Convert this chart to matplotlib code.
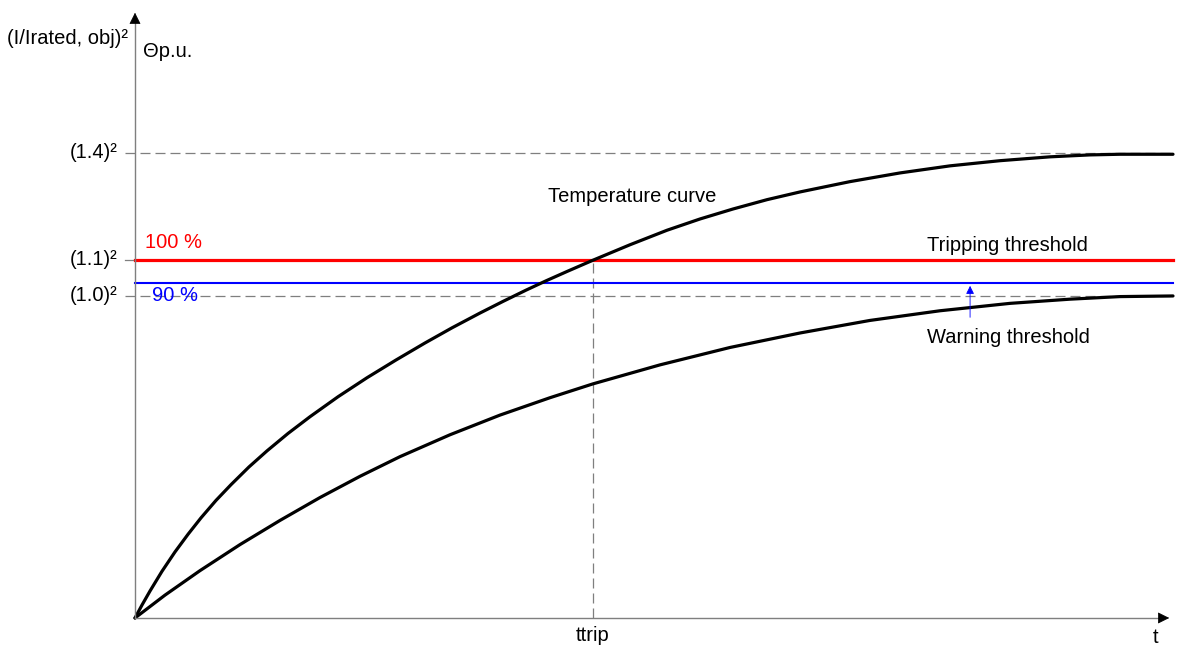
import numpy as np
import matplotlib.pyplot as plt

plt.rcParams['font.family'] = ['Liberation Sans', 'DejaVu Sans']

# Часова вісь (умовні одиниці, 10 = правий край кривих)
t_high = [0, 0.067, 0.145, 0.260, 0.385, 0.511, 0.636, 0.780, 0.925, 1.098,
          1.272, 1.474, 1.686, 1.956, 2.235, 2.514, 2.794, 3.054, 3.324,
          3.545, 3.767, 3.960, 4.162, 4.412, 4.769, 5.125, 5.443, 5.761,
          6.089, 6.407, 6.888, 7.370, 7.852, 8.333, 8.815, 9.200, 9.489,
          9.778, 10.0]
# Крива температури при (1.4)²
theta_high = [0, 0.040, 0.084, 0.145, 0.205, 0.260, 0.311, 0.365, 0.414, 0.469,
              0.519, 0.573, 0.625, 0.687, 0.746, 0.801, 0.854, 0.901, 0.947,
              0.983, 1.018, 1.047, 1.076, 1.111, 1.159, 1.204, 1.239, 1.270,
              1.299, 1.323, 1.355, 1.382, 1.404, 1.420, 1.432, 1.438, 1.440,
              1.440, 1.440]

t_low = [0, 0.289, 0.626, 1.012, 1.397, 1.782, 2.168, 2.553, 3.035, 3.516,
         3.998, 4.412, 5.058, 5.732, 6.407, 7.081, 7.755, 8.430, 9.008,
         9.489, 10.0]
# Крива температури при (1.0)²
theta_low = [0, 0.071, 0.147, 0.228, 0.303, 0.374, 0.440, 0.501, 0.569, 0.630,
             0.684, 0.727, 0.786, 0.840, 0.885, 0.924, 0.954, 0.977, 0.990,
             0.998, 1.000]

# Рівні на осі Y
level_values = [1.444, 1.112, 1.0]
level_labels = ['(1.4)²', '(1.1)²', '(1.0)²']
trip_level = 1.112
warn_level = 1.040
t_trip = 4.412
t_end = 10.0

fig = plt.figure(figsize=(11.77, 6.46), dpi=100)
ax = fig.add_axes([0, 0, 1, 1])
ax.set_xlim(-1.3006, 10.0385)
ax.set_ylim(-0.087, 1.919)
ax.axis('off')

dash = dict(color='#7f7f7f', lw=0.9, dashes=(8, 4))

# Пунктирні рівні
ax.plot([-0.1, t_end], [level_values[0]] * 2, **dash)
ax.plot([-0.1, t_end], [level_values[2]] * 2, **dash)
ax.plot([-0.1, 0], [level_values[1]] * 2, color='#7f7f7f', lw=0.9)
ax.plot([t_trip, t_trip], [0, trip_level], **dash)

# Пороги
ax.plot([0, t_end], [trip_level] * 2, color='#ff0000', lw=2.3)
ax.plot([0, t_end], [warn_level] * 2, color='#0000ff', lw=1.5)

# Криві
ax.plot(t_high, theta_high, color='black', lw=2.3, solid_capstyle='round', solid_joinstyle='round')
ax.plot(t_low, theta_low, color='black', lw=2.3, solid_capstyle='round', solid_joinstyle='round')

# Осі зі стрілками
ax.plot([0, 0], [0, 1.86], color='#7f7f7f', lw=1)
ax.plot([0, 9.87], [0, 0], color='#7f7f7f', lw=1)
ax.annotate('', xy=(0, 1.888), xytext=(0, 1.842),
            arrowprops=dict(arrowstyle='-|>', color='black', lw=0.5, mutation_scale=18))
ax.annotate('', xy=(9.99, 0), xytext=(9.86, 0),
            arrowprops=dict(arrowstyle='-|>', color='black', lw=0.5, mutation_scale=18))

# Стрілка попередження
ax.annotate('', xy=(8.045, warn_level), xytext=(8.045, 0.925),
            arrowprops=dict(arrowstyle='-|>', color='#0000ff', lw=0.6, mutation_scale=12))

fs = 14.5
for v, lab in zip(level_values, level_labels):
    ax.text(-0.164, v, lab, ha='right', va='center', fontsize=fs)

ax.text(0.1, trip_level + 0.055, '100 %', color='#ff0000', fontsize=fs, va='center')
ax.text(0.16, warn_level - 0.04, '90 %', color='#0000ff', fontsize=fs, va='center')
ax.text(7.63, trip_level + 0.045, 'Tripping threshold', fontsize=fs, va='center')
ax.text(7.63, 0.872, 'Warning threshold', fontsize=fs, va='center')
ax.text(3.98, 1.308, 'Temperature curve', fontsize=fs, va='center')
ax.text(t_trip, -0.055, 'ttrip', fontsize=fs, ha='center', va='center')
ax.text(9.83, -0.062, 't', fontsize=fs, ha='center', va='center')
ax.text(-0.067, 1.80, '(I/Irated, obj)²', fontsize=fs, ha='right', va='center')
ax.text(0.08, 1.76, 'Θp.u.', fontsize=fs, ha='left', va='center')

fig.savefig('out.png', dpi=100)
